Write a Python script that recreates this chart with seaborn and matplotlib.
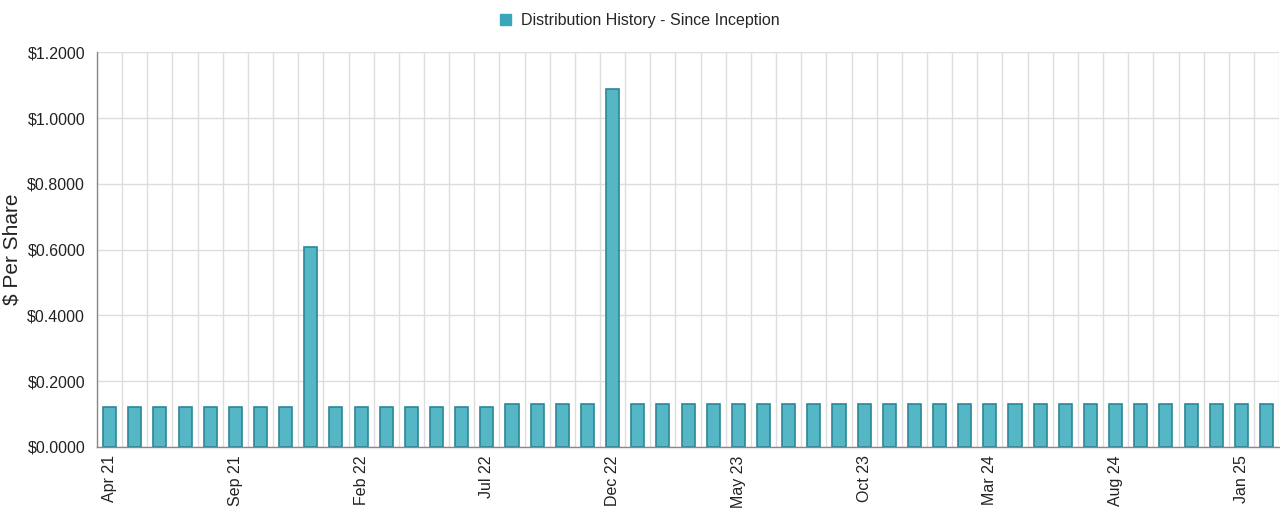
import pandas as pd
import matplotlib.pyplot as plt
import seaborn as sns
from matplotlib.patches import Patch

# Monthly distributions, Apr 2021 - Feb 2025
months = pd.date_range('2021-04-01', periods=47, freq='MS').strftime('%b %y').tolist()
per_share = [
    0.121, 0.121, 0.121, 0.121, 0.121, 0.121, 0.121, 0.121, 0.609,   # Apr 21 - Dec 21
    0.121, 0.121, 0.121, 0.121, 0.121, 0.121, 0.121,                  # Jan 22 - Jul 22
    0.130, 0.130, 0.130, 0.130, 1.087,                                # Aug 22 - Dec 22
    0.130, 0.130, 0.130, 0.130, 0.130, 0.130, 0.130, 0.130, 0.130,   # Jan 23 - Sep 23
    0.130, 0.130, 0.130, 0.130, 0.130, 0.130, 0.130, 0.130, 0.130,   # Oct 23 - Jun 24
    0.130, 0.130, 0.130, 0.130, 0.130, 0.130, 0.130, 0.130,          # Jul 24 - Feb 25
]
y_ticks = [0.0, 0.2, 0.4, 0.6, 0.8, 1.0, 1.2]
series_name = 'Distribution History - Since Inception'

df = pd.DataFrame({'month': months, 'value': per_share})

sns.set_style('white')
plt.rcParams['font.family'] = ['Liberation Sans', 'DejaVu Sans']

fig = plt.figure(figsize=(12.8, 5.12), dpi=100)
ax = fig.add_axes([0.0758, 0.127, 0.9235, 0.771])

fill = '#55b6c6'
edge = '#2a8796'
sns.barplot(data=df, x='month', y='value', order=months, color=fill,
            width=0.52, edgecolor=edge, linewidth=1.2, saturation=1, ax=ax)

n = len(months)
ax.set_xlim(-0.5, n - 0.5)
ax.set_ylim(0, 1.2)

# labels every 5 months at bar centers, tick marks at band edges
label_pos = list(range(0, n, 5))
ax.set_xticks(label_pos)
ax.set_xticklabels([months[i] for i in label_pos], rotation=90, fontsize=11.5, color='#222222')
ax.set_xticks([i - 0.5 for i in range(n + 1)], minor=True)
ax.tick_params(axis='x', which='major', length=0, pad=6)
ax.tick_params(axis='x', which='minor', length=5, color='#888888', width=1)

ax.set_yticks(y_ticks)
ax.set_yticklabels([f'${v:.4f}' for v in y_ticks], fontsize=11.5, color='#222222')
ax.tick_params(axis='y', length=5, color='#888888', width=1)

ax.grid(False)
ax.grid(True, axis='x', which='minor', color='#dddddd', linewidth=1)
ax.grid(True, axis='y', which='major', color='#dddddd', linewidth=1)
ax.set_axisbelow(True)

for side in ['top', 'right']:
    ax.spines[side].set_visible(False)
for side in ['left', 'bottom']:
    ax.spines[side].set_color('#888888')
    ax.spines[side].set_linewidth(1)

ax.set_xlabel('')
ax.set_ylabel('$ Per Share', fontsize=15, color='#222222')
ax.yaxis.set_label_coords(-0.064, 0.5)

handle = Patch(facecolor='#3aa6b9', edgecolor='#3aa6b9')
fig.legend([handle], [series_name], loc='center', bbox_to_anchor=(0.5, 0.96),
           frameon=False, fontsize=11.5, handlelength=0.7, handleheight=0.7, handletextpad=0.6)

fig.savefig('out.png', dpi=100)
